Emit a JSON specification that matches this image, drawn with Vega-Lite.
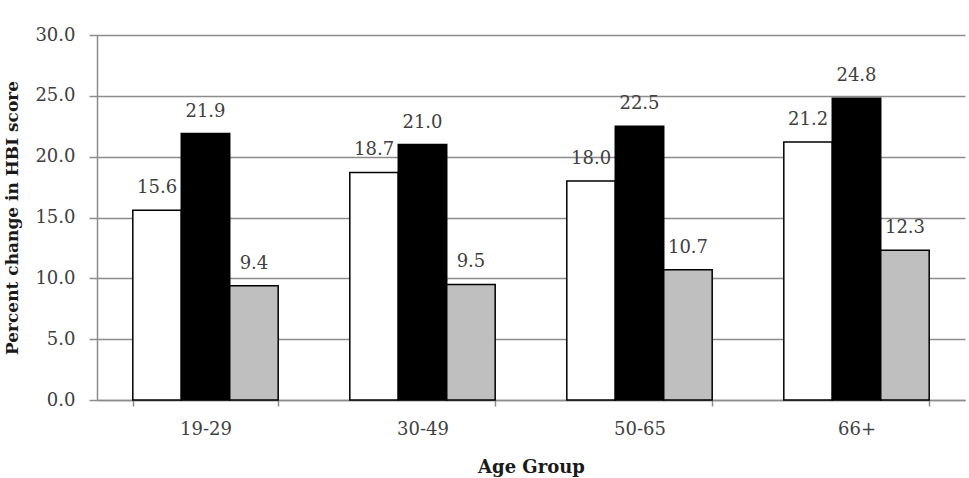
{
  "$schema": "https://vega.github.io/schema/vega-lite/v6.json",
  "width": 868,
  "height": 365,
  "autosize": {"type": "none"},
  "padding": {"left": 97, "top": 35, "right": 4, "bottom": 78},
  "background": "white",
  "config": {
    "view": {"stroke": null},
    "font": "DejaVu Serif",
    "axis": {"labelFont": "DejaVu Serif", "titleFont": "DejaVu Serif"}
  },
  "data": {
    "values": [
      {"age": "19-29", "series": "Series 1", "value": 15.6},
      {"age": "19-29", "series": "Series 2", "value": 21.9},
      {"age": "19-29", "series": "Series 3", "value": 9.4},
      {"age": "30-49", "series": "Series 1", "value": 18.7},
      {"age": "30-49", "series": "Series 2", "value": 21.0},
      {"age": "30-49", "series": "Series 3", "value": 9.5},
      {"age": "50-65", "series": "Series 1", "value": 18.0},
      {"age": "50-65", "series": "Series 2", "value": 22.5},
      {"age": "50-65", "series": "Series 3", "value": 10.7},
      {"age": "66+", "series": "Series 1", "value": 21.2},
      {"age": "66+", "series": "Series 2", "value": 24.8},
      {"age": "66+", "series": "Series 3", "value": 12.3}
    ]
  },
  "encoding": {
    "x": {
      "field": "age",
      "type": "nominal",
      "sort": null,
      "scale": {"paddingInner": 0.33, "paddingOuter": 0.165},
      "axis": {
        "title": "Age Group",
        "titleFontSize": 18,
        "titleFontWeight": "bold",
        "titleColor": "#1a1a1a",
        "titlePadding": 20,
        "labelAngle": 0,
        "labelFontSize": 18,
        "labelColor": "#404040",
        "labelPadding": 14,
        "tickBand": "extent",
        "tickSize": 6,
        "tickColor": "#8c8c8c",
        "tickWidth": 1.5,
        "domainColor": "#8c8c8c",
        "domainWidth": 1.5,
        "grid": false
      }
    },
    "xOffset": {"field": "series", "type": "nominal", "scale": {"paddingInner": 0, "paddingOuter": 0}},
    "y": {
      "field": "value",
      "type": "quantitative",
      "scale": {"domain": [0, 30], "nice": false},
      "axis": {
        "title": "Percent change in HBI score",
        "titleFontSize": 17,
        "titleFontWeight": "bold",
        "titleColor": "#1a1a1a",
        "titlePadding": 13,
        "values": [0, 5, 10, 15, 20, 25, 30],
        "format": ".1f",
        "labelFontSize": 18,
        "labelColor": "#404040",
        "labelPadding": 14,
        "tickSize": 8,
        "tickColor": "#8c8c8c",
        "tickWidth": 1.5,
        "domainColor": "#8c8c8c",
        "domainWidth": 1.5,
        "grid": true,
        "gridColor": "#8c8c8c",
        "gridWidth": 1.5
      }
    }
  },
  "layer": [
    {
      "mark": {"type": "bar", "stroke": "black", "strokeWidth": 1.5},
      "encoding": {
        "fill": {
          "field": "series",
          "type": "nominal",
          "scale": {"domain": ["Series 1", "Series 2", "Series 3"], "range": ["#ffffff", "#000000", "#bfbfbf"]},
          "legend": null
        }
      }
    },
    {
      "mark": {"type": "text", "baseline": "alphabetic", "dy": -17, "fontSize": 18, "color": "#404040"},
      "encoding": {
        "text": {"field": "value", "type": "quantitative", "format": ".1f"}
      }
    }
  ]
}
